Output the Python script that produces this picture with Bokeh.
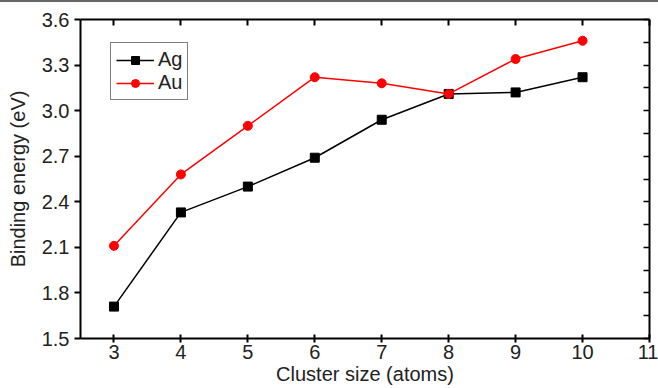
from bokeh.plotting import figure
from bokeh.models import (LinearAxis, FixedTicker, Legend, LegendItem, Range1d,
                          PrintfTickFormatter, CustomLabelingPolicy)
from bokeh.embed import file_html
from bokeh.resources import INLINE

cluster_size = [3, 4, 5, 6, 7, 8, 9, 10]
ag_energy = [1.71, 2.33, 2.50, 2.69, 2.94, 3.11, 3.12, 3.22]
au_energy = [2.11, 2.58, 2.90, 3.22, 3.18, 3.11, 3.34, 3.46]
x_ticks = [3, 4, 5, 6, 7, 8, 9, 10, 11]
y_ticks = [1.5, 1.8, 2.1, 2.4, 2.7, 3.0, 3.3, 3.6]
y_minor = [1.5, 1.65, 1.8, 1.95, 2.1, 2.25, 2.4, 2.55, 2.7, 2.85, 3.0, 3.15, 3.3, 3.45, 3.6]

FONT = "Liberation Sans"
FS = "20px"
TXT = "#222222"

p = figure(width=658, height=386, output_backend="svg", toolbar_location=None,
           x_range=Range1d(2.5, 11), y_range=Range1d(1.5, 3.6),
           min_border_left=80, min_border_right=9, min_border_top=17, min_border_bottom=50)
p.styles = {"border-top": "2px solid #666666"}
p.grid.visible = False
p.outline_line_color = None
p.background_fill_color = "white"
p.border_fill_color = "white"

for ax in [p.xaxis[0], p.yaxis[0]]:
    ax.axis_line_width = 2
    ax.axis_line_color = "black"
    ax.major_tick_line_width = 2
    ax.major_tick_line_color = "black"
    ax.minor_tick_line_color = None
    ax.major_label_text_font = FONT
    ax.major_label_text_font_size = FS
    ax.major_label_text_color = TXT
    ax.axis_label_text_font = FONT
    ax.axis_label_text_font_size = FS
    ax.axis_label_text_font_style = "normal"
    ax.axis_label_text_color = TXT

p.xaxis[0].ticker = FixedTicker(ticks=x_ticks)
p.xaxis[0].major_tick_in = 4
p.xaxis[0].major_tick_out = 4
p.xaxis[0].axis_label = "Cluster size (atoms)"
p.xaxis[0].axis_label_standoff = 1
p.xaxis[0].major_label_standoff = 2

p.yaxis[0].ticker = FixedTicker(ticks=y_ticks)
p.yaxis[0].formatter = PrintfTickFormatter(format="%.1f")
p.yaxis[0].major_tick_in = 0
p.yaxis[0].major_tick_out = 6
p.yaxis[0].axis_label = "Binding energy (eV)"
p.yaxis[0].axis_label_standoff = 10
p.yaxis[0].major_label_standoff = 5

no_labels = "for (const i of indices) { indices.unset(i) }\nreturn indices"

top = LinearAxis(ticker=FixedTicker(ticks=x_ticks),
                 major_label_policy=CustomLabelingPolicy(code=no_labels),
                 major_label_text_font_size="1px", axis_label_standoff=0,
                 major_tick_in=6, major_tick_out=0, major_tick_line_width=2,
                 axis_line_width=2, minor_tick_line_color=None, major_label_standoff=0)
p.add_layout(top, "above")
right = LinearAxis(ticker=FixedTicker(ticks=y_minor),
                   major_label_policy=CustomLabelingPolicy(code=no_labels),
                   major_label_text_font_size="1px", axis_label_standoff=0,
                   major_tick_in=6, major_tick_out=0, major_tick_line_width=1.5,
                   axis_line_width=2, minor_tick_line_color=None, major_label_standoff=0)
p.add_layout(right, "right")

l1 = p.line(cluster_size, ag_energy, line_color="black", line_width=1.5)
m1 = p.scatter(cluster_size, ag_energy, marker="square", size=9, fill_color="black", line_color="black")
l2 = p.line(cluster_size, au_energy, line_color="red", line_width=1.5)
m2 = p.scatter(cluster_size, au_energy, marker="circle", size=9, fill_color="red", line_color="red")

legend = Legend(items=[LegendItem(label="Ag", renderers=[l1, m1]),
                       LegendItem(label="Au", renderers=[l2, m2])],
                location=(30, 238), border_line_color="black", border_line_width=1.2,
                label_text_font=FONT, label_text_font_size=FS, label_text_color=TXT,
                glyph_width=38, glyph_height=20, label_standoff=4, spacing=0,
                padding=5, margin=0, label_height=20, background_fill_alpha=1)
p.add_layout(legend, "center")

open("out.html", "w").write(file_html(p, INLINE))
